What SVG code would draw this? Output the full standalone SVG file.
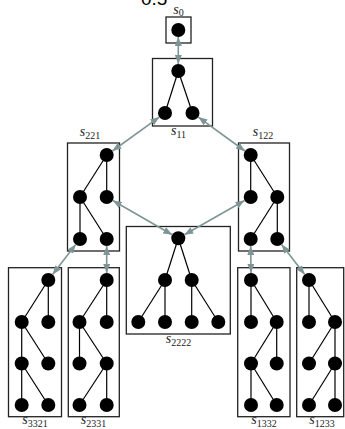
<svg xmlns="http://www.w3.org/2000/svg" width="345" height="429" viewBox="0 0 345 429">
<style>
.box{fill:none;stroke:#222;stroke-width:1.3}
.e{stroke:#000;stroke-width:1.2}
.n{fill:#000}
.lbl{font-family:"Liberation Serif",serif;font-style:italic;font-size:14px;fill:#222;text-anchor:middle}
.sub{font-style:normal;font-size:10px}
.arr{stroke:#7f9595;stroke-width:1.6;fill:none;marker-start:url(#ah);marker-end:url(#ah)}
.top{font-family:"Liberation Sans",Arial,sans-serif;font-size:19px;fill:#000}
</style>
<defs>
<marker id="ah" viewBox="0 0 9 7" refX="9" refY="3.5" markerWidth="9" markerHeight="7" markerUnits="userSpaceOnUse" orient="auto-start-reverse">
<path d="M0,0 L9,3.5 L0,7 z" fill="#7f9595"/>
</marker>
</defs>
<rect width="345" height="429" fill="#fff"/>
<text class="top" x="141" y="5">0.5</text>

<g id="s0">
<rect class="box" x="166" y="17" width="25" height="26"/>
<circle class="n" cx="178.3" cy="30" r="7"/>
<text class="lbl" x="178.5" y="13.5">s<tspan class="sub" dy="2.5">0</tspan></text>
</g>

<g id="s11">
<rect class="box" x="152.5" y="58.5" width="60" height="67.5"/>
<line class="e" x1="178.3" y1="71" x2="165" y2="113"/>
<line class="e" x1="178.3" y1="71" x2="192.5" y2="113"/>
<circle class="n" cx="178.3" cy="71" r="7"/>
<circle class="n" cx="165" cy="113" r="7"/>
<circle class="n" cx="192.5" cy="113" r="7"/>
<text class="lbl" x="178.5" y="135">s<tspan class="sub" dy="3">11</tspan></text>
</g>

<g id="s221">
<rect class="box" x="67.5" y="143" width="52" height="108"/>
<line class="e" x1="106.7" y1="155" x2="80" y2="197"/>
<line class="e" x1="106.7" y1="155" x2="106.7" y2="197"/>
<line class="e" x1="80" y1="197" x2="80" y2="239"/>
<line class="e" x1="80" y1="197" x2="106.7" y2="239"/>
<circle class="n" cx="106.7" cy="155" r="7"/>
<circle class="n" cx="80" cy="197" r="7"/>
<circle class="n" cx="106.7" cy="197" r="7"/>
<circle class="n" cx="80" cy="239" r="7"/>
<circle class="n" cx="106.7" cy="239" r="7"/>
<text class="lbl" x="90" y="136">s<tspan class="sub" dy="2.5">221</tspan></text>
</g>

<g id="s122">
<rect class="box" x="238.5" y="143" width="51" height="108"/>
<line class="e" x1="250.7" y1="155" x2="250.7" y2="197"/>
<line class="e" x1="250.7" y1="155" x2="277.3" y2="197"/>
<line class="e" x1="277.3" y1="197" x2="250.7" y2="239"/>
<line class="e" x1="277.3" y1="197" x2="277.3" y2="239"/>
<circle class="n" cx="250.7" cy="155" r="7"/>
<circle class="n" cx="250.7" cy="197" r="7"/>
<circle class="n" cx="277.3" cy="197" r="7"/>
<circle class="n" cx="250.7" cy="239" r="7"/>
<circle class="n" cx="277.3" cy="239" r="7"/>
<text class="lbl" x="263" y="136">s<tspan class="sub" dy="2.5">122</tspan></text>
</g>

<g id="s2222">
<rect class="box" x="126.3" y="226.5" width="104" height="107.5"/>
<line class="e" x1="178.3" y1="238.3" x2="165" y2="280"/>
<line class="e" x1="178.3" y1="238.3" x2="191.7" y2="280"/>
<line class="e" x1="165" y1="280" x2="138.3" y2="322"/>
<line class="e" x1="165" y1="280" x2="165" y2="322"/>
<line class="e" x1="191.7" y1="280" x2="191.7" y2="322"/>
<line class="e" x1="191.7" y1="280" x2="218.3" y2="322"/>
<circle class="n" cx="178.3" cy="238.3" r="7"/>
<circle class="n" cx="165" cy="280" r="7"/>
<circle class="n" cx="191.7" cy="280" r="7"/>
<circle class="n" cx="138.3" cy="322" r="7"/>
<circle class="n" cx="165" cy="322" r="7"/>
<circle class="n" cx="191.7" cy="322" r="7"/>
<circle class="n" cx="218.3" cy="322" r="7"/>
<text class="lbl" x="178.5" y="343">s<tspan class="sub" dy="3">2222</tspan></text>
</g>

<g id="s3321">
<rect class="box" x="8.5" y="267.7" width="53" height="149"/>
<line class="e" x1="48.3" y1="280" x2="21.7" y2="322"/>
<line class="e" x1="48.3" y1="280" x2="48.3" y2="322"/>
<line class="e" x1="21.7" y1="322" x2="21.7" y2="363.5"/>
<line class="e" x1="21.7" y1="322" x2="48.3" y2="363.5"/>
<line class="e" x1="21.7" y1="363.5" x2="21.7" y2="405"/>
<line class="e" x1="21.7" y1="363.5" x2="48.3" y2="405"/>
<circle class="n" cx="48.3" cy="280" r="7"/>
<circle class="n" cx="21.7" cy="322" r="7"/>
<circle class="n" cx="48.3" cy="322" r="7"/>
<circle class="n" cx="21.7" cy="363.5" r="7"/>
<circle class="n" cx="48.3" cy="363.5" r="7"/>
<circle class="n" cx="21.7" cy="405" r="7"/>
<circle class="n" cx="48.3" cy="405" r="7"/>
<text class="lbl" x="35" y="424">s<tspan class="sub" dy="3">3321</tspan></text>
</g>

<g id="s2331">
<rect class="box" x="68.3" y="267.7" width="51" height="149"/>
<line class="e" x1="106.7" y1="280" x2="79.5" y2="322"/>
<line class="e" x1="106.7" y1="280" x2="106.7" y2="322"/>
<line class="e" x1="79.5" y1="322" x2="79.5" y2="363.5"/>
<line class="e" x1="79.5" y1="322" x2="106.7" y2="363.5"/>
<line class="e" x1="106.7" y1="363.5" x2="79.5" y2="405"/>
<line class="e" x1="106.7" y1="363.5" x2="106.7" y2="405"/>
<circle class="n" cx="106.7" cy="280" r="7"/>
<circle class="n" cx="79.5" cy="322" r="7"/>
<circle class="n" cx="106.7" cy="322" r="7"/>
<circle class="n" cx="79.5" cy="363.5" r="7"/>
<circle class="n" cx="106.7" cy="363.5" r="7"/>
<circle class="n" cx="79.5" cy="405" r="7"/>
<circle class="n" cx="106.7" cy="405" r="7"/>
<text class="lbl" x="93.5" y="424">s<tspan class="sub" dy="3">2331</tspan></text>
</g>

<g id="s1332">
<rect class="box" x="237.7" y="267.7" width="52.3" height="149"/>
<line class="e" x1="251" y1="280" x2="251" y2="322"/>
<line class="e" x1="251" y1="280" x2="276.7" y2="322"/>
<line class="e" x1="276.7" y1="322" x2="251" y2="363.5"/>
<line class="e" x1="276.7" y1="322" x2="276.7" y2="363.5"/>
<line class="e" x1="251" y1="363.5" x2="251" y2="405"/>
<line class="e" x1="251" y1="363.5" x2="276.7" y2="405"/>
<circle class="n" cx="251" cy="280" r="7"/>
<circle class="n" cx="251" cy="322" r="7"/>
<circle class="n" cx="276.7" cy="322" r="7"/>
<circle class="n" cx="251" cy="363.5" r="7"/>
<circle class="n" cx="276.7" cy="363.5" r="7"/>
<circle class="n" cx="251" cy="405" r="7"/>
<circle class="n" cx="276.7" cy="405" r="7"/>
<text class="lbl" x="264" y="424">s<tspan class="sub" dy="3">1332</tspan></text>
</g>

<g id="s1233">
<rect class="box" x="296.7" y="267.7" width="47" height="149"/>
<line class="e" x1="309" y1="280" x2="309" y2="322"/>
<line class="e" x1="309" y1="280" x2="335" y2="322"/>
<line class="e" x1="335" y1="322" x2="309" y2="363.5"/>
<line class="e" x1="335" y1="322" x2="335" y2="363.5"/>
<line class="e" x1="335" y1="363.5" x2="309" y2="405"/>
<line class="e" x1="335" y1="363.5" x2="335" y2="405"/>
<circle class="n" cx="309" cy="280" r="7"/>
<circle class="n" cx="309" cy="322" r="7"/>
<circle class="n" cx="335" cy="322" r="7"/>
<circle class="n" cx="309" cy="363.5" r="7"/>
<circle class="n" cx="335" cy="363.5" r="7"/>
<circle class="n" cx="309" cy="405" r="7"/>
<circle class="n" cx="335" cy="405" r="7"/>
<text class="lbl" x="322" y="424">s<tspan class="sub" dy="3">1233</tspan></text>
</g>

<g id="connectors">
<line class="arr" x1="178.3" y1="37" x2="178.3" y2="64"/>
<line class="arr" x1="159.3" y1="117.1" x2="112.4" y2="151"/>
<line class="arr" x1="198.3" y1="117.1" x2="245" y2="151"/>
<line class="arr" x1="112.8" y1="200.5" x2="172.2" y2="234.8"/>
<line class="arr" x1="244.6" y1="200.5" x2="184.4" y2="234.8"/>
<line class="arr" x1="75.7" y1="244.5" x2="52.6" y2="274.5"/>
<line class="arr" x1="106.7" y1="246" x2="106.7" y2="273"/>
<line class="arr" x1="250.7" y1="246" x2="251" y2="273"/>
<line class="arr" x1="281.6" y1="244.5" x2="304.7" y2="274.5"/>
</g>
</svg>
